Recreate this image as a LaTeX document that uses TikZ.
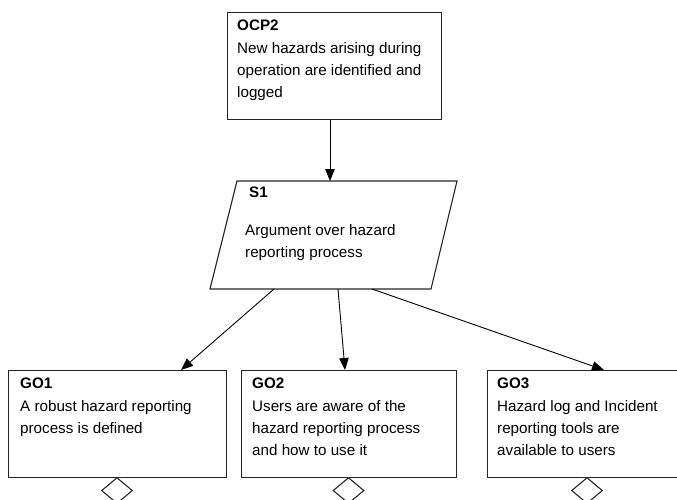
\documentclass[tikz,border=0pt]{standalone}
\usepackage{fontspec}
\setmainfont{Liberation Sans}
\usetikzlibrary{arrows.meta,shapes.geometric}

\tikzset{
  goalbox/.style={draw=black!85, line width=1.1pt, rectangle, inner sep=0pt,
                  anchor=north west, minimum width=#1, minimum height=107pt},
  head/.style={anchor=base west, inner sep=0pt, font=\fontsize{15.2}{22}\selectfont\bfseries},
  % multi-line text: the base anchor sits on the last line
  body/.style={anchor=base west, inner sep=0pt, align=left, font=\fontsize{15.2}{22}\selectfont},
  link/.style={draw=black, line width=0.9pt, -{Triangle[length=12pt,width=9.5pt]}},
  undev/.style={draw=black!85, line width=1.1pt, diamond, inner sep=0pt,
                minimum width=31pt, minimum height=26pt, anchor=north},
}

\begin{document}
\begin{tikzpicture}[x=1pt, y=-1pt]
  \useasboundingbox (0,0) rectangle (677,500);

  % operational claim
  \node[goalbox=214pt] (ocp) at (227,12) {};
  \node[head] (ocpT) at (237,31) {OCP2};
  \node[body] (ocpB) at (237,97.3) {New hazards arising during\\operation are identified and\\logged};

  % strategy (parallelogram)
  \coordinate (s1tl) at (237,181);
  \coordinate (s1tr) at (457,181);
  \coordinate (s1br) at (431,289);
  \coordinate (s1bl) at (210,289);
  \draw[draw=black!85, line width=1.1pt] (s1tl) -- (s1tr) -- (s1br) -- (s1bl) -- cycle;
  \coordinate (s1in) at (330,181);
  \coordinate (s1o1) at (274,289);
  \coordinate (s1o2) at (338,289);
  \coordinate (s1o3) at (372,289);
  \node[head] (s1T) at (249,197.5) {S1};
  \node[body] (s1B) at (245,257) {Argument over hazard\\reporting process};

  % sub-goals
  \node[goalbox=218pt] (go1) at (8,370) {};
  \node[head] (go1T) at (20,388) {GO1};
  \node[body] (go1B) at (20,433.7) {A robust hazard reporting\\process is defined};

  \node[goalbox=215pt] (go2) at (241,370) {};
  \node[head] (go2T) at (252,388) {GO2};
  \node[body] (go2B) at (252,455.7) {Users are aware of the\\hazard reporting process\\and how to use it};

  \node[goalbox=200pt] (go3) at (487,370) {};
  \node[head] (go3T) at (497,388) {GO3};
  \node[body] (go3B) at (497,455.7) {Hazard log and Incident\\reporting tools are\\available to users};

  % undeveloped markers
  \node[undev] (d1) at (117,477) {};
  \node[undev] (d2) at (348.5,477) {};
  \node[undev] (d3) at (587,477) {};

  % connectors
  \coordinate (go1in) at (181,370);
  \coordinate (go2in) at (345,370);
  \coordinate (go3in) at (604,370);
  \draw[link] (ocp.south -| s1in) -- (s1in);
  \draw[link] (s1o1) -- (go1in);
  \draw[link] (s1o2) -- (go2in);
  \draw[link] (s1o3) -- (go3in);
\end{tikzpicture}
\end{document}
